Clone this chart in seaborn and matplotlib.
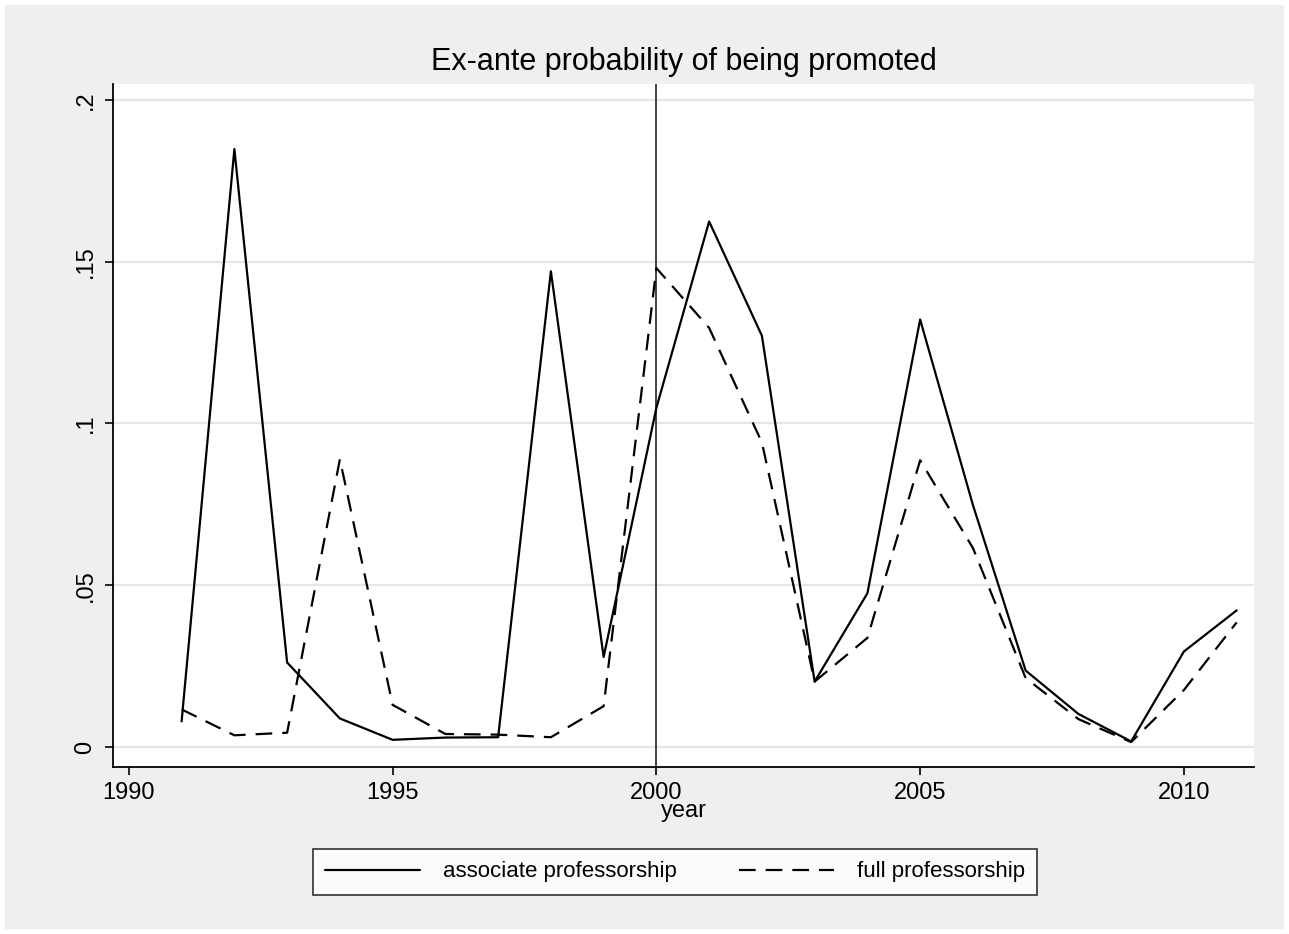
import numpy as np
import pandas as pd
import matplotlib
matplotlib.use('Agg')
import matplotlib.pyplot as plt
import seaborn as sns
from matplotlib.patches import Rectangle

years = list(range(1991, 2012))
associate = [0.0079, 0.1848, 0.0261, 0.0088, 0.0022, 0.0029, 0.0030, 0.1470, 0.0278, 0.1048,
             0.1624, 0.1271, 0.0202, 0.0475, 0.1321, 0.0748, 0.0236, 0.0102, 0.0017, 0.0295, 0.0422]
full = [0.0116, 0.0036, 0.0044, 0.0889, 0.0130, 0.0040, 0.0038, 0.0030, 0.0126, 0.1480,
        0.1295, 0.0941, 0.0202, 0.0337, 0.0886, 0.0615, 0.0213, 0.0086, 0.0015, 0.0176, 0.0385]
xticks = [1990, 1995, 2000, 2005, 2010]
yticks = [0, 0.05, 0.1, 0.15, 0.2]
ylabels = ['0', '.05', '.1', '.15', '.2']

df = pd.DataFrame({'year': years * 2,
                   'prob': associate + full,
                   'series': ['associate professorship'] * len(years) + ['full professorship'] * len(years)})

sns.set_style('white')
plt.rcParams['font.family'] = ['Liberation Sans Narrow', 'Liberation Sans', 'DejaVu Sans']
plt.rcParams.update({'text.color': 'black', 'axes.labelcolor': 'black',
                     'xtick.color': 'black', 'ytick.color': 'black'})

fig = plt.figure(figsize=(12.89, 9.34), dpi=100, facecolor='#efefef')
fig.patches.append(Rectangle((0, 0), 1, 1, transform=fig.transFigure, fill=False,
                             edgecolor='white', linewidth=7, zorder=10))
ax = fig.add_axes([0.0877, 0.1788, 0.8852, 0.7313])
ax.set_facecolor('white')

for y in yticks:
    ax.axhline(y, color='#e6e6e6', lw=1.6, zorder=0)
ax.axvline(2000, color='#333333', lw=1.3, zorder=1)

sns.lineplot(data=df[df.series == 'associate professorship'], x='year', y='prob',
             color='black', lw=1.6, ax=ax, label='associate professorship', legend=False)
sns.lineplot(data=df[df.series == 'full professorship'], x='year', y='prob',
             color='black', lw=1.6, linestyle=(0, (7.5, 4.5)), ax=ax,
             label='full professorship', legend=False)

ax.set_xlim(1989.70, 2011.33)
ax.set_ylim(-0.0062, 0.2049)
ax.set_xticks(xticks)
ax.set_xticklabels([str(x) for x in xticks])
ax.set_yticks(yticks)
ax.set_yticklabels(ylabels, rotation=90, va='center')
ax.tick_params(axis='both', which='both', direction='out', length=6, width=1.2,
               color='black', labelsize=17, bottom=True, left=True)
ax.tick_params(axis='x', pad=5)
ax.tick_params(axis='y', pad=6)
for s in ['top', 'right']:
    ax.spines[s].set_visible(False)
for s in ['left', 'bottom']:
    ax.spines[s].set_color('black')
    ax.spines[s].set_linewidth(1.3)

ax.set_xlabel('year', fontsize=17, labelpad=-3)
ax.set_ylabel('')
ax.set_title('Ex-ante probability of being promoted', fontsize=22, pad=10)

handles, labels = ax.get_legend_handles_labels()
leg = fig.legend(handles, labels, loc='center', bbox_to_anchor=(0.5235, 1 - 872 / 934),
                 ncol=2, frameon=True, fancybox=False, edgecolor='black', fontsize=16,
                 handlelength=4.3, handletextpad=1.0, columnspacing=2.8,
                 borderpad=0.55, borderaxespad=0)
leg.get_frame().set_linewidth(1.2)
leg.get_frame().set_facecolor('white')

fig.savefig('out.png', dpi=100, facecolor=fig.get_facecolor())
